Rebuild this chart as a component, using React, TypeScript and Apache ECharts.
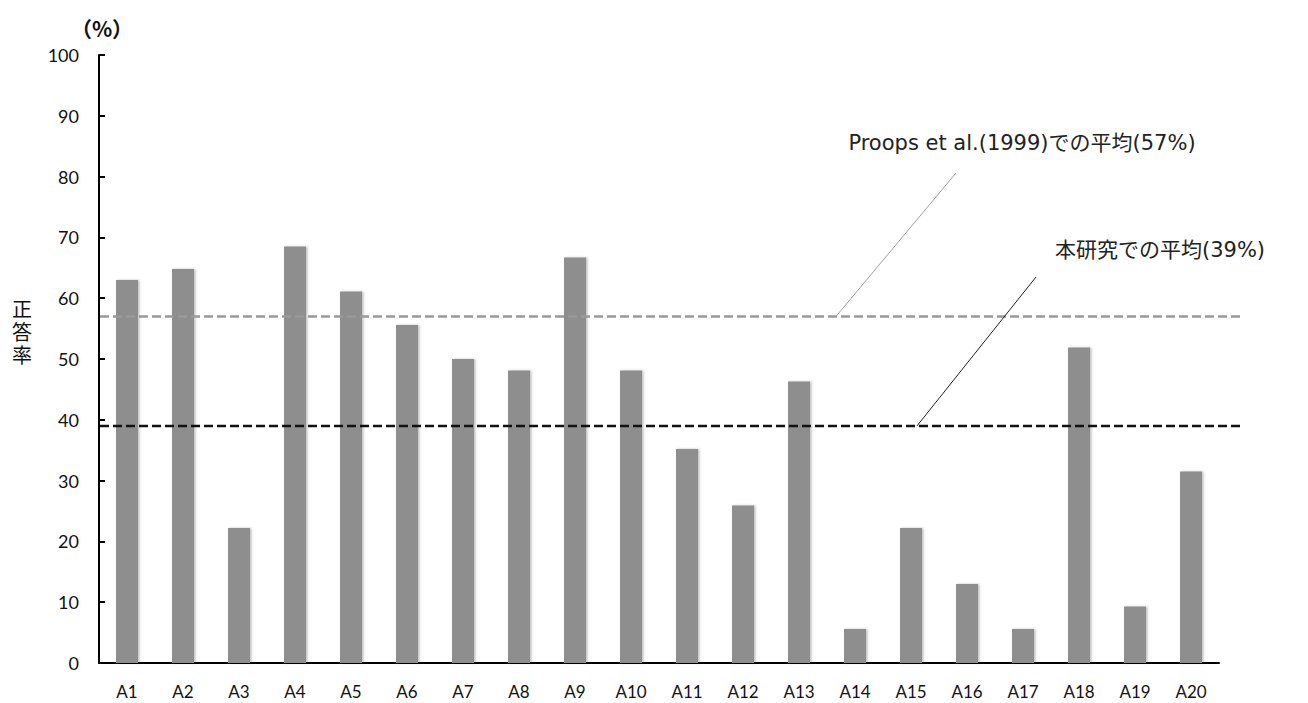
import React, { useEffect, useRef } from "react";
import * as echarts from "echarts";

// Question labels and correct-answer rates (%)
const categories = [
  "A1", "A2", "A3", "A4", "A5", "A6", "A7", "A8", "A9", "A10",
  "A11", "A12", "A13", "A14", "A15", "A16", "A17", "A18", "A19", "A20",
];
const correctRates = [
  63.0, 64.8, 22.2, 68.5, 61.1, 55.6, 50.0, 48.1, 66.7, 48.1,
  35.2, 25.9, 46.3, 5.6, 22.2, 13.0, 5.6, 51.9, 9.3, 31.5,
];

// Reference averages drawn as dashed lines
const proopsMean = 57;
const studyMean = 39;
const proopsLabel = `Proops et al.(1999)での平均(${proopsMean}%)`;
const studyLabel = `本研究での平均(${studyMean}%)`;

// Value axis range
const yMin = 0;
const yMax = 100;
const yInterval = 10;

const TICK_FONT = "Lato, 'Open Sans', sans-serif";
const JP_FONT = "'Noto Sans CJK JP', 'Noto Sans', sans-serif";
const NOTE_FONT = "'DejaVu Sans', 'Noto Sans CJK JP', sans-serif";

export default function App() {
  const ref = useRef<HTMLDivElement>(null);

  useEffect(() => {
    document.body.style.margin = "0";
    if (!ref.current) return;
    const chart = echarts.init(ref.current, null, { renderer: "svg" });

    chart.setOption({
      animation: false,
      backgroundColor: "#ffffff",
      grid: {
        left: 99,
        right: 89,
        top: 55,
        bottom: 40,
        containLabel: false,
        outerBoundsMode: "none",
      },
      xAxis: {
        type: "category",
        data: categories,
        axisLine: { lineStyle: { color: "#000", width: 2 } },
        axisTick: { show: false },
        axisLabel: {
          color: "#111",
          fontSize: 17,
          fontFamily: TICK_FONT,
          margin: 20,
        },
      },
      yAxis: {
        type: "value",
        min: yMin,
        max: yMax,
        interval: yInterval,
        axisLine: { show: true, lineStyle: { color: "#000", width: 2 } },
        axisTick: { show: true, inside: true, length: 6, lineStyle: { color: "#000", width: 2 } },
        splitLine: { show: false },
        axisLabel: {
          color: "#111",
          fontSize: 18,
          fontFamily: TICK_FONT,
          margin: 20,
        },
      },
      series: [
        {
          type: "bar",
          data: correctRates,
          barWidth: 22,
          itemStyle: {
            color: "#8e8e8e",
            shadowColor: "rgba(0,0,0,0.25)",
            shadowBlur: 2,
            shadowOffsetX: 1.5,
          },
          silent: true,
        },
      ],
    });

    // Average lines and their callouts, positioned through the value axis
    const yProops = chart.convertToPixel({ yAxisIndex: 0 }, proopsMean) as number;
    const yStudy = chart.convertToPixel({ yAxisIndex: 0 }, studyMean) as number;
    const xStart = 100;
    const xEnd = 1244;

    chart.setOption({
      graphic: [
        {
          type: "line",
          shape: { x1: xStart, y1: yProops, x2: xEnd, y2: yProops },
          style: { stroke: "#999999", lineWidth: 2.5, lineDash: [9, 4] },
          z: 10,
        },
        {
          type: "line",
          shape: { x1: xStart, y1: yStudy, x2: xEnd, y2: yStudy },
          style: { stroke: "#111111", lineWidth: 2.5, lineDash: [9, 4] },
          z: 10,
        },
        {
          type: "line",
          shape: { x1: 956, y1: 173, x2: 836, y2: yProops },
          style: { stroke: "#a0a0a0", lineWidth: 1 },
          z: 11,
        },
        {
          type: "line",
          shape: { x1: 1036, y1: 277, x2: 917, y2: yStudy },
          style: { stroke: "#222222", lineWidth: 1 },
          z: 11,
        },
        {
          type: "text",
          x: 1022,
          y: 143,
          style: {
            text: proopsLabel,
            fontSize: 21,
            fontFamily: NOTE_FONT,
            fill: "#222",
            align: "center",
            verticalAlign: "middle",
          },
          z: 12,
        },
        {
          type: "text",
          x: 1160,
          y: 250,
          style: {
            text: studyLabel,
            fontSize: 21,
            fontFamily: NOTE_FONT,
            fill: "#222",
            align: "center",
            verticalAlign: "middle",
          },
          z: 12,
        },
        {
          type: "text",
          x: 102,
          y: 28,
          style: {
            text: "（%）",
            fontSize: 21,
            fontWeight: "bold",
            fontFamily: JP_FONT,
            fill: "#111",
            align: "center",
            verticalAlign: "middle",
          },
        },
        {
          type: "text",
          x: 22,
          y: 331,
          style: {
            text: "正\n答\n率",
            fontSize: 20,
            lineHeight: 23,
            fontFamily: JP_FONT,
            fill: "#111",
            align: "center",
            verticalAlign: "middle",
          },
        },
      ],
    });

    return () => chart.dispose();
  }, []);

  return <div ref={ref} style={{ width: 1308, height: 703 }} />;
}
